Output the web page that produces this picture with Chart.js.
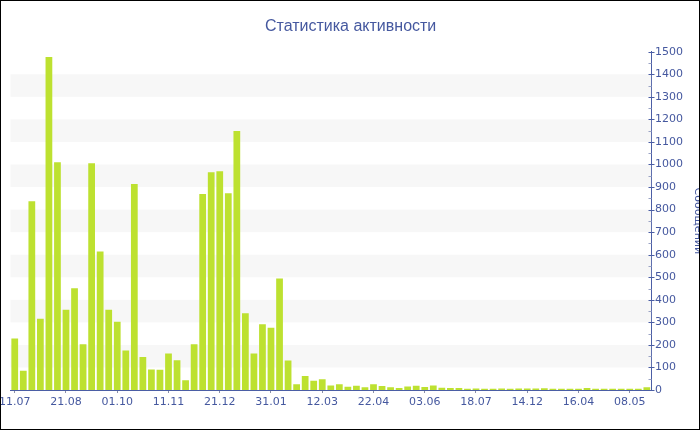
<!DOCTYPE html>
<html><head><meta charset="utf-8">
<script src="https://cdn.jsdelivr.net/npm/chart.js@4/dist/chart.umd.min.js"></script>
<style>
html,body{margin:0;padding:0;background:#fff;}
#frame{position:relative;width:700px;height:430px;box-sizing:border-box;border:1px solid #000;overflow:hidden;background:#fff;}
#c{position:absolute;left:-5px;top:-1px;}
</style></head><body>
<div id="frame"><canvas id="c" width="720" height="430"></canvas></div>
<script>
const chartTitle = 'Статистика активности';
const axisTitle = 'Сообщений';
const tickLabels = ['11.07','21.08','01.10','11.11','21.12','31.01','12.03','22.04','03.06','18.07','14.12','16.04','08.05'];
const messages = [
  228, 85, 837, 316, 1477, 1010, 356, 451, 203, 1005,
  614, 356, 303, 175, 913, 146, 91, 90, 162, 132,
  43, 203, 869, 966, 970, 872, 1148, 340, 162, 291,
  276, 494, 131, 25, 62, 41, 48, 20, 26, 14,
  19, 12, 26, 18, 12, 9, 15, 19, 13, 20,
  10, 9, 9, 6, 7, 6, 6, 7, 6, 7,
  7, 7, 8, 6, 6, 5, 6, 9, 6, 6,
  6, 5, 6, 6, 12
];
const labelEvery = 6;
const categories = messages.map((v, i) => i % labelEvery === 0 ? (tickLabels[i / labelEvery] || '') : '');

const BLUE = '#45589f';
const AXIS = '#4b5ea5';

const bandsPlugin = {
  id: 'bands',
  beforeDatasetsDraw(chart) {
    const {ctx, chartArea, scales: {y}} = chart;
    ctx.save();
    ctx.fillStyle = '#f7f7f7';
    y.ticks.forEach(t => {
      if (t.value % 200 === 100 && t.value + 100 <= y.max) {
        const top = y.getPixelForValue(t.value + 100);
        const bot = y.getPixelForValue(t.value);
        ctx.fillRect(chartArea.left, top, chartArea.right - chartArea.left, bot - top);
      }
    });
    ctx.restore();
  }
};
const yTicksPlugin = {
  id: 'yticks',
  afterDraw(chart) {
    const {ctx, scales: {y}} = chart;
    const x = Math.round(y.left) + 0.5;
    ctx.save();
    ctx.lineWidth = 1;
    y.ticks.forEach(t => {
      const py = Math.round(y.getPixelForValue(t.value)) + 0.5;
      ctx.beginPath();
      if (t.value % 100 === 0) {
        ctx.strokeStyle = AXIS;
        ctx.moveTo(x - 3, py); ctx.lineTo(x + 3, py);
      } else {
        ctx.strokeStyle = '#9aa3c4';
        ctx.moveTo(x - 3, py); ctx.lineTo(x, py);
      }
      ctx.stroke();
    });
    ctx.restore();
  }
};

new Chart(document.getElementById('c'), {
  type: 'bar',
  data: {
    labels: categories,
    datasets: [{
      data: messages,
      backgroundColor: '#bde130',
      borderWidth: 0,
      barPercentage: 0.79,
      categoryPercentage: 1.0
    }]
  },
  options: {
    responsive: false,
    animation: false,
    layout: { padding: { top: 8, right: 10.7, bottom: 17.8, left: 0 } },
    plugins: {
      legend: { display: false },
      tooltip: { enabled: false },
      title: {
        display: true,
        text: chartTitle,
        color: BLUE,
        font: { family: 'Liberation Sans', size: 16, weight: 'normal' },
        padding: { top: 9, bottom: 15.5 }
      }
    },
    scales: {
      x: {
        type: 'category',
        offset: true,
        grid: {
          display: true,
          offset: false,
          drawOnChartArea: false,
          drawTicks: true,
          tickLength: 3,
          color: ctx => (ctx.tick && ctx.tick.label !== '') ? '#8a8fa8' : 'rgba(0,0,0,0)'
        },
        border: { display: true, color: AXIS, width: 1 },
        ticks: {
          autoSkip: false,
          maxRotation: 0,
          minRotation: 0,
          padding: 3,
          color: BLUE,
          font: { family: 'DejaVu Sans', size: 11 }
        }
      },
      y: {
        position: 'right',
        min: 0,
        max: 1500,
        grid: { display: false, drawOnChartArea: false, drawTicks: false, tickLength: 0 },
        border: { display: true, color: AXIS, width: 1 },
        ticks: {
          stepSize: 50,
          autoSkip: false,
          padding: 4,
          color: BLUE,
          font: { family: 'DejaVu Sans', size: 11 },
          callback: v => (v % 100 === 0 ? String(v) : '')
        },
        title: {
          display: true,
          text: axisTitle,
          color: BLUE,
          font: { family: 'DejaVu Sans', size: 11 },
          padding: { top: 1, bottom: 4 }
        }
      }
    }
  },
  plugins: [bandsPlugin, yTicksPlugin]
});
</script>
</body></html>
